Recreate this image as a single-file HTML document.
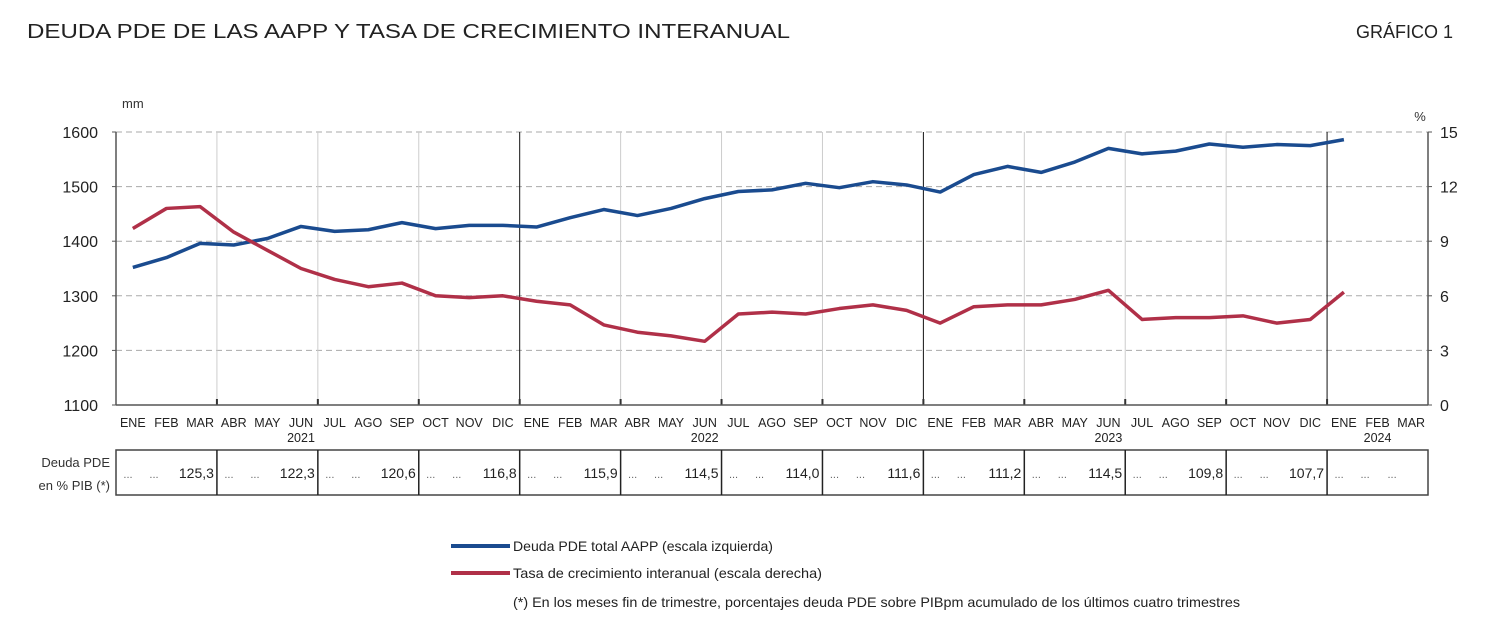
<!DOCTYPE html>
<html><head><meta charset="utf-8"><style>
html,body{margin:0;padding:0;background:#fff;width:1500px;height:627px;overflow:hidden}
svg{display:block;font-family:"Liberation Sans",sans-serif}
</style></head><body>
<svg id="c" width="1500" height="627" viewBox="0 0 1500 627">
<text x="27" y="38" font-size="20" fill="#222" textLength="763" lengthAdjust="spacingAndGlyphs">DEUDA PDE DE LAS AAPP Y TASA DE CRECIMIENTO INTERANUAL</text>
<text x="1453" y="38" font-size="18" fill="#222" text-anchor="end">GRÁFICO 1</text>
<text x="122" y="108" font-size="13" fill="#333">mm</text>
<text x="1420" y="121" font-size="13" fill="#333" text-anchor="middle">%</text>
<g id="grid"></g><g id="axes"></g><g id="series"></g><g id="table"></g>
<g>
<line x1="451" y1="546" x2="510" y2="546" stroke="#1a4b8f" stroke-width="4"/>
<text x="513" y="551" font-size="14" fill="#222" textLength="260" lengthAdjust="spacingAndGlyphs">Deuda PDE total AAPP (escala izquierda)</text>
<line x1="451" y1="573" x2="510" y2="573" stroke="#b03048" stroke-width="4"/>
<text x="513" y="578" font-size="14" fill="#222" textLength="309" lengthAdjust="spacingAndGlyphs">Tasa de crecimiento interanual (escala derecha)</text>
<text x="513" y="607" font-size="14" fill="#222" textLength="727" lengthAdjust="spacingAndGlyphs">(*) En los meses fin de trimestre, porcentajes deuda PDE sobre PIBpm acumulado de los últimos cuatro trimestres</text>
</g>
</svg>
<script>
const months=["ENE","FEB","MAR","ABR","MAY","JUN","JUL","AGO","SEP","OCT","NOV","DIC"];
const years=["2021","2022","2023","2024"];
const yearLabelMonth=[5,17,29,37];
const debt=[1352,1370,1396,1393,1405,1427,1418,1421,1434,1423,1429,1429,1426,1443,1458,1447,1460,1478,1491,1494,1506,1498,1509,1503,1490,1522,1537,1526,1545,1570,1560,1565,1578,1572,1577,1575,1586];
const rate=[9.7,10.8,10.9,9.5,8.5,7.5,6.9,6.5,6.7,6.0,5.9,6.0,5.7,5.5,4.4,4.0,3.8,3.5,5.0,5.1,5.0,5.3,5.5,5.2,4.5,5.4,5.5,5.5,5.8,6.3,4.7,4.8,4.8,4.9,4.5,4.7,6.2];
const leftTicks=[1100,1200,1300,1400,1500,1600];
const rightTicks=[0,3,6,9,12,15];
const ratioPIB=["125,3","122,3","120,6","116,8","115,9","114,5","114,0","111,6","111,2","114,5","109,8","107,7",""];
const NS="http://www.w3.org/2000/svg";
const L=116,R=1428,T=132,B=405,N=39,cw=(R-L)/N;
const x=i=>L+(i+0.5)*cw;
const yL=v=>B-(v-1100)/500*(B-T);
const yR=v=>B-v/15*(B-T);
function mk(p,tag,a){const e=document.createElementNS(NS,tag);for(const k in a)e.setAttribute(k,a[k]);p.appendChild(e);return e;}
const grid=document.getElementById('grid'),axes=document.getElementById('axes'),ser=document.getElementById('series'),tab=document.getElementById('table');
leftTicks.forEach((v,i)=>{
  const y=yL(v);
  if(i>0){const g=mk(grid,'line',{x1:L,x2:R,y1:y,y2:y,stroke:'#aaa','stroke-dasharray':'6,4','stroke-width':1});
  
  }
  const t=mk(axes,'text',{x:L-18,y:y+6,'font-size':16,'text-anchor':'end',fill:'#222'});t.textContent=v;
  
  
  mk(axes,'line',{x1:L-4,x2:L,y1:y,y2:y,stroke:'#555'});
});
rightTicks.forEach(v=>{
  const y=yR(v);
  const t=mk(axes,'text',{x:R+12,y:y+6,'font-size':16,'text-anchor':'start',fill:'#222'});t.textContent=v;
  
  
  mk(axes,'line',{x1:R,x2:R+4,y1:y,y2:y,stroke:'#555'});
});
for(let q=1;q<13;q++){
  const xx=L+q*3*cw, yr=q%4==0;
  const g=mk(grid,'line',{x1:xx,x2:xx,y1:T,y2:B,stroke:yr?'#111':'#ccc','stroke-width':1});
  
  
  mk(axes,'line',{x1:xx,x2:xx,y1:B,y2:B-6,stroke:'#333','stroke-width':2});
}
mk(axes,'line',{x1:L,x2:L,y1:T,y2:B,stroke:'#555','stroke-width':1.5});
mk(axes,'line',{x1:R,x2:R,y1:T,y2:B,stroke:'#555','stroke-width':1.5});
mk(axes,'line',{x1:L,x2:R,y1:B,y2:B,stroke:'#555','stroke-width':1.5});
for(let i=0;i<N;i++){
  const t=mk(axes,'text',{x:x(i),y:427,'font-size':12.5,'text-anchor':'middle',fill:'#222'});t.textContent=months[i%12];
  
  
}
years.forEach((yv,k)=>{
  const t=mk(axes,'text',{x:x(yearLabelMonth[k]),y:442,'font-size':12.5,'text-anchor':'middle',fill:'#222'});t.textContent=yv;
  
  
});
function line(arr,fy,col,name){
  const p=mk(ser,'polyline',{points:arr.map((v,i)=>x(i)+','+fy(v)).join(' '),fill:'none',stroke:col,'stroke-width':3.5,'stroke-linejoin':'round'});
  
  
}
line(debt,yL,'#1a4b8f','debt-line');
line(rate,yR,'#b03048','rate-line');
const TT=450,TB=495;
mk(tab,'rect',{x:L,y:TT,width:R-L,height:TB-TT,fill:'none',stroke:'#444','stroke-width':1.5});
for(let q=1;q<13;q++){const xx=L+q*3*cw;mk(tab,'line',{x1:xx,x2:xx,y1:TT,y2:TB,stroke:'#222','stroke-width':1.5});}
const h1=mk(tab,'text',{x:110,y:467,'font-size':13,'text-anchor':'end',fill:'#333'});h1.textContent='Deuda PDE';


const h2=mk(tab,'text',{x:110,y:490,'font-size':13,'text-anchor':'end',fill:'#333'});h2.textContent='en % PIB (*)';


ratioPIB.forEach((v,q)=>{
  const x0=L+q*3*cw;
  const d1=mk(tab,'text',{x:x0+12,y:478,'font-size':11,fill:'#666','text-anchor':'middle'});d1.textContent='...';
  const d2=mk(tab,'text',{x:x0+38,y:478,'font-size':11,fill:'#666','text-anchor':'middle'});d2.textContent='...';
  const t=mk(tab,'text',{x:v?x0+3*cw-3:x0+65,y:478,'font-size':v?14:11,fill:v?'#222':'#666','text-anchor':v?'end':'middle'});t.textContent=v||'...';
  
  
});
</script>
</body></html>
